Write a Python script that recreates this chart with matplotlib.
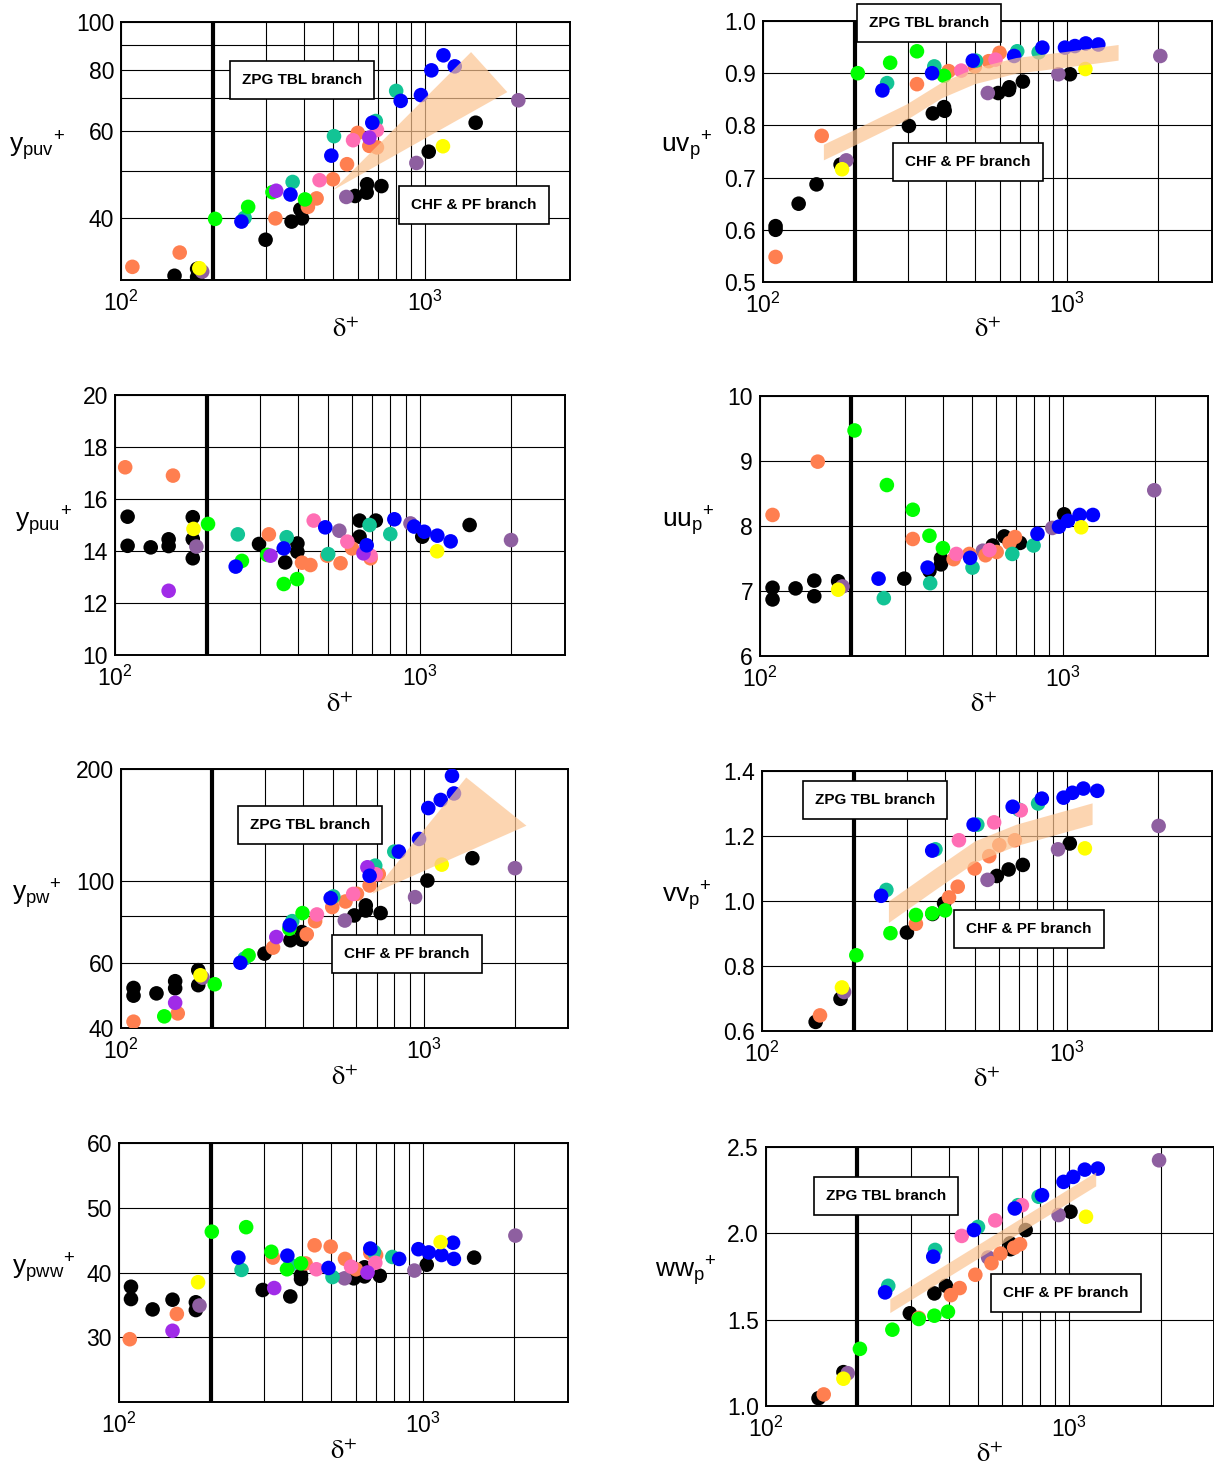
import matplotlib

matplotlib.use("Agg")
import matplotlib.pyplot as plt
from matplotlib.ticker import FixedLocator, FixedFormatter, NullFormatter
import numpy as np

plt.rcParams["font.family"] = ["Liberation Sans", "DejaVu Sans"]
plt.rcParams["mathtext.fontset"] = "custom"
plt.rcParams["mathtext.rm"] = "Liberation Sans"
plt.rcParams["mathtext.it"] = "Liberation Sans:italic"
plt.rcParams["mathtext.bf"] = "Liberation Sans:bold"

W, H = 1214, 1468

# series draw order and colours
order = ["black", "muted", "orange", "teal", "green", "pink", "violet", "blue", "yellow"]
colors = {
    "black": "#000000",
    "muted": "#8E5FA0",
    "orange": "#FF7F50",
    "teal": "#12C495",
    "green": "#00FF00",
    "pink": "#FF6EB4",
    "violet": "#A02BE8",
    "blue": "#0000FF",
    "yellow": "#FFFF00",
}

# ---- y_puv+ ----
ypuv = {
    "black": ([150, 178, 178, 299, 364, 394, 389, 589, 643, 645, 719, 1029, 1468],
              [30.6, 31.6, 30.4, 36.2, 39.4, 40.0, 41.7, 44.4, 45.1, 46.9, 46.5, 54.6, 62.5]),
    "orange": ([109, 156, 322, 412, 440, 498, 554, 601, 656, 695],
               [31.9, 34.1, 40.0, 42.2, 43.9, 48.0, 51.5, 59.6, 56.1, 55.7]),
    "yellow": ([181, 1146], [31.7, 56.0]),
    "muted": ([185, 551, 937, 2028], [31.2, 44.2, 51.8, 69.4]),
    "green": ([204, 262, 315, 403], [39.9, 42.2, 45.2, 43.7]),
    "teal": ([255, 367, 502, 689, 804], [40.1, 47.4, 58.7, 63.0, 72.5]),
    "blue": ([249, 361, 492, 671, 832, 970, 1050, 1150, 1253],
             [39.4, 44.7, 53.6, 62.5, 69.2, 71.1, 79.8, 85.6, 81.3]),
    "pink": ([450, 580, 695], [47.8, 57.6, 60.4]),
    "violet": ([324, 656], [45.5, 58.3]),
}
ypuv_band_x = [498, 1418, 1866]
ypuv_band_y = [45.6, 86.9, 72.1]

# ---- uv_p+ ----
uvp = {
    "black": ([110, 110, 131, 150, 180, 302, 362, 394, 396, 594, 644, 646, 716, 1023],
              [0.600, 0.607, 0.650, 0.687, 0.725, 0.799, 0.823, 0.835, 0.828, 0.862, 0.868, 0.873, 0.884, 0.898]),
    "orange": ([110, 156, 321, 408, 498, 553, 600], [0.548, 0.780, 0.879, 0.904, 0.913, 0.923, 0.939]),
    "yellow": ([182, 1150], [0.716, 0.908]),
    "muted": ([188, 549, 937, 2028], [0.733, 0.862, 0.898, 0.933]),
    "green": ([205, 262, 321, 394], [0.900, 0.920, 0.942, 0.895]),
    "teal": ([256, 366, 502, 686, 807], [0.881, 0.913, 0.924, 0.942, 0.940]),
    "blue": ([247, 360, 490, 670, 830, 985, 1062, 1153, 1268],
             [0.867, 0.900, 0.924, 0.933, 0.949, 0.949, 0.952, 0.957, 0.955]),
    "pink": ([449, 582], [0.905, 0.926]),
}
uvp_band_x = [158, 201, 296, 387, 497, 679, 970, 1473]
uvp_band_y = [0.749, 0.778, 0.826, 0.868, 0.895, 0.915, 0.926, 0.940]
uvp_band_half = 0.015

# ---- y_puu+ ----
ypuu = {
    "black": ([110, 110, 131, 150, 150, 180, 180, 180, 297, 362, 397, 397, 635, 635, 718, 1020, 1459],
              [15.32, 14.2, 14.14, 14.45, 14.19, 15.3, 14.46, 13.72, 14.27, 13.56, 14.29, 13.97,
               15.17, 14.55, 15.17, 14.55, 15.0]),
    "orange": ([108, 155, 320, 411, 438, 497, 550, 600, 690],
               [17.22, 16.9, 14.64, 13.55, 13.46, 13.82, 13.53, 14.1, 13.72]),
    "yellow": ([181, 1141], [14.85, 13.99]),
    "muted": ([185, 545, 933, 1995], [14.17, 14.78, 15.06, 14.42]),
    "green": ([202, 261, 316, 358, 396], [15.04, 13.62, 13.85, 12.73, 12.92]),
    "teal": ([253, 366, 501, 685, 801], [14.64, 14.53, 13.88, 15.0, 14.65]),
    "blue": ([249, 358, 490, 670, 826, 959, 1035, 1143, 1264],
             [13.4, 14.1, 14.91, 14.22, 15.22, 14.94, 14.74, 14.59, 14.37]),
    "pink": ([449, 579, 690], [15.17, 14.36, 13.82]),
    "violet": ([150, 324, 654], [12.47, 13.82, 13.91]),
}

# ---- uu_p+ ----
uup = {
    "black": ([110, 110, 131, 151, 151, 181, 299, 362, 395, 395, 585, 639, 720, 1006],
              [6.87, 7.05, 7.04, 7.16, 6.92, 7.15, 7.19, 7.31, 7.41, 7.50, 7.70, 7.84, 7.74, 8.18]),
    "orange": ([110, 155, 319, 435, 490, 554, 603, 665, 693],
               [8.17, 8.99, 7.80, 7.49, 7.57, 7.55, 7.60, 7.74, 7.83]),
    "yellow": ([181, 1146], [7.02, 7.98]),
    "muted": ([187, 543, 920, 1995], [7.07, 7.62, 7.97, 8.55]),
    "green": ([205, 262, 319, 362, 401], [9.47, 8.63, 8.25, 7.85, 7.66]),
    "teal": ([256, 364, 502, 679, 798], [6.89, 7.12, 7.36, 7.57, 7.70]),
    "blue": ([246, 357, 493, 822, 968, 1036, 1132, 1252], [7.19, 7.36, 7.51, 7.88, 7.99, 8.08, 8.17, 8.17]),
    "pink": ([444, 571], [7.57, 7.63]),
}

# ---- y_pw+ ----
ypw = {
    "black": ([110, 110, 131, 151, 151, 180, 180, 298, 363, 396, 396, 590, 644, 644, 721, 1029, 1449],
              [51.3, 48.9, 49.6, 53.5, 51.2, 57.3, 52.2, 63.5, 69.0, 69.2, 72.6, 80.5, 85.7, 83.0,
               81.7, 100, 114.9]),
    "orange": ([110, 154, 318, 411, 438, 499, 552, 602, 663, 711],
               [41.6, 43.8, 65.9, 71.6, 77.7, 84.8, 87.8, 92.1, 97.0, 104]),
    "yellow": ([183, 1148], [55.5, 110.4]),
    "muted": ([186, 549, 937, 2004], [54.7, 78.0, 90.2, 108]),
    "green": ([139, 204, 264, 360, 398], [43.0, 52.5, 62.8, 74.1, 81.7]),
    "teal": ([256, 368, 503, 692, 800], [61.6, 77.7, 90.6, 109.7, 119.7]),
    "blue": ([248, 361, 493, 663, 828, 966, 1036, 1139, 1241, 1260],
             [60.0, 75.7, 89.6, 103, 119.7, 129.5, 156.9, 165, 191.7, 171.8]),
    "pink": ([444, 585, 695], [81, 92, 104]),
    "violet": ([151, 326, 652], [46.8, 70.4, 108.6]),
}
ypw_band_x = [676, 1383, 2187]
ypw_band_y = [92.1, 189.7, 140.6]

# ---- vv_p+ ----
vvp = {
    "black": ([150, 181, 299, 363, 396, 590, 645, 718, 1024],
              [0.628, 0.699, 0.903, 0.960, 0.993, 1.077, 1.097, 1.111, 1.177]),
    "orange": ([155, 320, 411, 439, 499, 557, 601, 676],
               [0.648, 0.930, 1.011, 1.044, 1.100, 1.138, 1.172, 1.187]),
    "yellow": ([183, 1148], [0.734, 1.162]),
    "muted": ([186, 550, 937, 2004], [0.720, 1.065, 1.159, 1.231]),
    "green": ([204, 264, 320, 362, 399], [0.833, 0.901, 0.957, 0.962, 0.971]),
    "teal": ([256, 371, 509, 697, 806], [1.034, 1.159, 1.235, 1.281, 1.300]),
    "blue": ([246, 362, 495, 665, 829, 977, 1045, 1135, 1260],
             [1.016, 1.155, 1.235, 1.290, 1.315, 1.318, 1.333, 1.346, 1.339]),
    "pink": ([443, 578, 707], [1.187, 1.242, 1.279]),
}
vvp_band_x = [260, 366, 499, 681, 1212]
vvp_band_y = [0.967, 1.065, 1.152, 1.203, 1.269]
vvp_band_half = 0.033

# ---- y_pww+ ----
ypww = {
    "black": ([109.5, 109.5, 129, 150, 179, 179, 297, 366, 397, 397, 592, 642, 642, 721, 1029, 1473],
              [37.8, 35.9, 34.3, 35.8, 35.4, 34.2, 37.3, 36.3, 39.6, 39.0, 39.1, 39.4, 40.8, 39.5, 41.2, 42.3]),
    "orange": ([108.5, 155, 321, 411, 440, 497, 554, 602, 671, 701],
               [29.7, 33.6, 42.3, 41.4, 44.2, 44.0, 42.1, 40.5, 43.0, 42.7]),
    "yellow": ([182, 1143], [38.5, 44.7]),
    "muted": ([184, 552, 937, 2014], [34.9, 39.1, 40.3, 45.7]),
    "green": ([202, 262, 317, 357, 397], [46.3, 47.0, 43.2, 40.5, 41.4]),
    "teal": ([253, 366, 504, 690, 793], [40.4, 41.2, 39.3, 43.2, 42.4]),
    "blue": ([247, 358, 489, 671, 835, 966, 1045, 1151, 1256, 1264],
             [42.3, 42.6, 40.7, 43.7, 42.1, 43.6, 43.1, 42.7, 44.6, 42.1]),
    "pink": ([446, 580, 697], [40.5, 40.9, 41.5]),
    "violet": ([150, 324, 657], [31.0, 37.6, 40.0]),
}

# ---- ww_p+ ----
wwp = {
    "black": ([149, 180, 298, 359, 392, 638, 640, 718, 1009],
              [1.045, 1.196, 1.537, 1.652, 1.696, 1.942, 1.908, 2.019, 2.125]),
    "orange": ([155, 319, 407, 435, 490, 554, 593, 658, 688],
               [1.067, 1.510, 1.642, 1.683, 1.760, 1.827, 1.883, 1.917, 1.937]),
    "yellow": ([180, 1135], [1.158, 2.096]),
    "muted": ([186, 540, 922, 1977], [1.190, 1.860, 2.106, 2.423]),
    "green": ([204, 261, 319, 359, 398], [1.331, 1.442, 1.504, 1.523, 1.546]),
    "teal": ([253, 361, 500, 678, 792], [1.696, 1.904, 2.037, 2.163, 2.212]),
    "blue": ([247, 356, 485, 661, 813, 957, 1030, 1125, 1241],
             [1.658, 1.865, 2.019, 2.144, 2.221, 2.298, 2.327, 2.369, 2.375]),
    "pink": ([442, 570, 698], [1.985, 2.075, 2.163]),
}
wwp_band_x = [256, 1222]
wwp_band_y = [1.581, 2.315]
wwp_band_half = 0.04

BAND = "#FCC491"


def fx(px):
    return px / W


def fy(py):
    return 1 - py / H


def make_axes(fig, box):
    left, top, right, bottom = box
    ax = fig.add_axes([fx(left), fy(bottom), (right - left) / W, (bottom - top) / H])
    ax.set_xscale("log")
    ax.set_xlim(100, 3000)
    ax.xaxis.set_minor_formatter(NullFormatter())
    ax.tick_params(which="both", length=0, labelsize=16.5)
    ax.tick_params(axis="y", pad=5)
    ax.tick_params(axis="x", pad=8)
    ax.grid(True, which="both", color="black", lw=0.8)
    ax.set_axisbelow(True)
    for s in ax.spines.values():
        s.set_linewidth(1.4)
    ax.axvline(200, color="black", lw=3, zorder=2)
    return ax


def scatter_all(ax, data):
    for name in order:
        if name in data:
            x, y = data[name]
            ax.scatter(x, y, s=110, c=colors[name], edgecolors="none", zorder=3)


def label_box(fig, cx, cy, text):
    fig.text(fx(cx), fy(cy), text, ha="center", va="center", fontsize=11, fontweight="bold",
             zorder=6, bbox=dict(boxstyle="square,pad=0.8", fc="white", ec="black", lw=1.2))


def labels(fig, ax, ylab, lx, ly, dy):
    fig.text(fx(lx), fy(ly), ylab, ha="right", va="center", fontsize=19)
    box = ax.get_position()
    fig.text(box.x0 + box.width / 2, fy(dy), r"$\mathrm{\delta}^{+}$", ha="center", va="center",
             fontsize=19, math_fontfamily="stix")


fig = plt.figure(figsize=(W / 100, H / 100), dpi=100)

# panel 1
ax = make_axes(fig, (121, 22, 570, 280))
ax.set_yscale("log")
ax.set_ylim(30, 100)
ax.yaxis.set_major_locator(FixedLocator([40, 60, 80, 100]))
ax.yaxis.set_major_formatter(FixedFormatter(["40", "60", "80", "100"]))
ax.yaxis.set_minor_locator(FixedLocator([50, 70, 90]))
ax.yaxis.set_minor_formatter(NullFormatter())
scatter_all(ax, ypuv)
ax.fill(ypuv_band_x, ypuv_band_y, color=BAND, alpha=0.7, lw=0, zorder=4)
labels(fig, ax, r"$\mathregular{y_{puv}{}^{+}}$", 65, 146, 330)
label_box(fig, 302, 80, "ZPG TBL branch")
label_box(fig, 474, 205, "CHF & PF branch")

# panel 2
ax = make_axes(fig, (763, 21, 1212, 282))
ax.set_ylim(0.5, 1.0)
ax.set_yticks(np.arange(0.5, 1.01, 0.1))
ax.yaxis.set_major_formatter(FixedFormatter(["0.5", "0.6", "0.7", "0.8", "0.9", "1.0"]))
scatter_all(ax, uvp)
bc = np.array(uvp_band_y)
ax.fill_between(uvp_band_x, bc - uvp_band_half, bc + uvp_band_half, color=BAND, alpha=0.7, lw=0, zorder=4)
labels(fig, ax, r"$\mathregular{uv_{p}{}^{+}}$", 712, 146, 330)
label_box(fig, 929, 23, "ZPG TBL branch")
label_box(fig, 968, 162, "CHF & PF branch")

# panel 3
ax = make_axes(fig, (115, 395, 565, 655))
ax.set_ylim(10, 20)
ax.set_yticks(range(10, 21, 2))
scatter_all(ax, ypuu)
labels(fig, ax, r"$\mathregular{y_{puu}{}^{+}}$", 72, 521, 705)

# panel 4
ax = make_axes(fig, (760, 396, 1208, 656))
ax.set_ylim(6, 10)
ax.set_yticks(range(6, 11))
scatter_all(ax, uup)
labels(fig, ax, r"$\mathregular{uu_{p}{}^{+}}$", 715, 521, 705)

# panel 5
ax = make_axes(fig, (121, 769, 568, 1028))
ax.set_yscale("log")
ax.set_ylim(40, 200)
ax.yaxis.set_major_locator(FixedLocator([40, 60, 100, 200]))
ax.yaxis.set_major_formatter(FixedFormatter(["40", "60", "100", "200"]))
ax.yaxis.set_minor_locator(FixedLocator([80]))
ax.yaxis.set_minor_formatter(NullFormatter())
scatter_all(ax, ypw)
ax.fill(ypw_band_x, ypw_band_y, color=BAND, alpha=0.7, lw=0, zorder=4)
labels(fig, ax, r"$\mathregular{y_{pw}{}^{+}}$", 62, 894, 1078)
label_box(fig, 310, 825, "ZPG TBL branch")
label_box(fig, 407, 954, "CHF & PF branch")

# panel 6
ax = make_axes(fig, (762, 771, 1212, 1031))
ax.set_ylim(0.6, 1.4)
ax.set_yticks([0.6, 0.8, 1.0, 1.2, 1.4])
ax.yaxis.set_major_formatter(FixedFormatter(["0.6", "0.8", "1.0", "1.2", "1.4"]))
scatter_all(ax, vvp)
bc = np.array(vvp_band_y)
ax.fill_between(vvp_band_x, bc - vvp_band_half, bc + vvp_band_half, color=BAND, alpha=0.7, lw=0, zorder=4)
labels(fig, ax, r"$\mathregular{vv_{p}{}^{+}}$", 712, 896, 1080)
label_box(fig, 875, 800, "ZPG TBL branch")
label_box(fig, 1029, 929, "CHF & PF branch")

# panel 7
ax = make_axes(fig, (119, 1143, 568, 1402))
ax.set_ylim(20, 60)
ax.set_yticks([30, 40, 50, 60])
scatter_all(ax, ypww)
labels(fig, ax, r"$\mathregular{y_{pww}{}^{+}}$", 75, 1268, 1452)

# panel 8
ax = make_axes(fig, (766, 1147, 1214, 1406))
ax.set_ylim(1.0, 2.5)
ax.set_yticks([1.0, 1.5, 2.0, 2.5])
ax.yaxis.set_major_formatter(FixedFormatter(["1.0", "1.5", "2.0", "2.5"]))
scatter_all(ax, wwp)
bc = np.array(wwp_band_y)
ax.fill_between(wwp_band_x, bc - wwp_band_half, bc + wwp_band_half, color=BAND, alpha=0.7, lw=0, zorder=4)
labels(fig, ax, r"$\mathregular{ww_{p}{}^{+}}$", 716, 1271, 1455)
label_box(fig, 886, 1196, "ZPG TBL branch")
label_box(fig, 1066, 1293, "CHF & PF branch")

fig.savefig("out.png", dpi=100)
